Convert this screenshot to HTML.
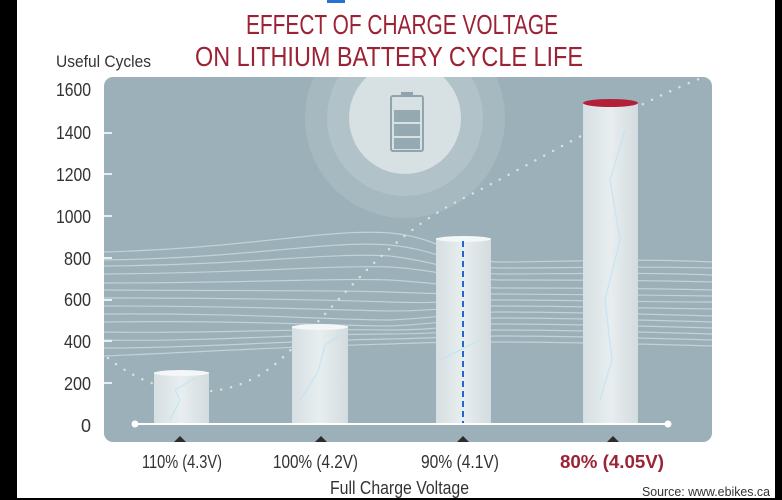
<!DOCTYPE html>
<html><head><meta charset="utf-8"><style>
html,body{margin:0;padding:0;background:#000;}
body{width:782px;height:500px;overflow:hidden;position:relative;font-family:"Liberation Sans",sans-serif;}
</style></head><body>
<svg width="782" height="500" viewBox="0 0 782 500" xmlns="http://www.w3.org/2000/svg" style="position:absolute;left:0;top:0" font-family="Liberation Sans, sans-serif">
<defs>
<linearGradient id="bar" x1="0" x2="1" y1="0" y2="0">
<stop offset="0" stop-color="#d6dfe2"/><stop offset="0.5" stop-color="#e8eef0"/><stop offset="1" stop-color="#d2dbde"/>
</linearGradient>
<clipPath id="pc"><rect x="104" y="77" width="608" height="365" rx="9"/></clipPath>
</defs>
<rect x="17" y="0" width="758" height="498" fill="#fff"/>
<rect x="327" y="0" width="18" height="3" fill="#2a6fd6"/>
<text x="246" y="34" font-size="28" fill="#9b2335" textLength="312" lengthAdjust="spacingAndGlyphs">EFFECT OF CHARGE VOLTAGE</text>
<text x="195" y="66" font-size="28" fill="#9b2335" textLength="388" lengthAdjust="spacingAndGlyphs">ON LITHIUM BATTERY CYCLE LIFE</text>
<text x="56" y="67" font-size="17" fill="#333" textLength="95" lengthAdjust="spacingAndGlyphs">Useful Cycles</text>
<g font-size="18" fill="#333" text-anchor="end">
<text x="91" y="96" textLength="35" lengthAdjust="spacingAndGlyphs">1600</text><text x="91" y="139" textLength="35" lengthAdjust="spacingAndGlyphs">1400</text><text x="91" y="181" textLength="35" lengthAdjust="spacingAndGlyphs">1200</text>
<text x="91" y="223" textLength="35" lengthAdjust="spacingAndGlyphs">1000</text><text x="91" y="265" textLength="27" lengthAdjust="spacingAndGlyphs">800</text><text x="91" y="306" textLength="27" lengthAdjust="spacingAndGlyphs">600</text>
<text x="91" y="348" textLength="27" lengthAdjust="spacingAndGlyphs">400</text><text x="91" y="390" textLength="27" lengthAdjust="spacingAndGlyphs">200</text><text x="91" y="432">0</text>
</g>
<rect x="104" y="77" width="608" height="365" rx="9" fill="#9bb0b8"/>
<g clip-path="url(#pc)">
<circle cx="405" cy="118" r="100" fill="#a6b9c0"/>
<circle cx="405" cy="118" r="78" fill="#b1c3c9"/>
<circle cx="405" cy="118" r="56" fill="#d7e0e3"/>
<g fill="none" stroke="#c9d5d9" stroke-width="1.2" opacity="0.9">
<path d="M104,252 C250,248 330,228 390,233 C440,237 460,262 500,262 C560,262 640,258 712,262"/>
<path d="M104,260 C250,258 330,240 390,245 C440,250 460,268 500,268 C560,268 640,266 712,268"/>
<path d="M104,266 C250,265 330,252 390,256 C440,262 460,274 500,274 C560,274 640,272 712,275"/>
<path d="M104,274 C250,273 330,265 390,267 C440,270 460,280 500,280 C560,280 640,280 712,282"/>
<path d="M104,283 C250,283 330,278 390,280 C440,283 460,288 500,288 C560,288 640,288 712,290"/>
<path d="M104,290 C250,291 330,290 390,292 C440,294 460,294 500,294 C560,294 640,295 712,296"/>
<path d="M104,298 C250,298 330,300 390,302 C440,304 460,300 500,300 C560,300 640,302 712,302"/>
<path d="M104,306 C250,306 330,310 390,311 C440,311 460,306 500,306 C560,306 640,308 712,309"/>
<path d="M104,314 C250,313 330,320 390,320 C440,318 460,312 500,312 C560,312 640,314 712,316"/>
<path d="M104,322 C250,320 330,326 390,326 C440,324 460,318 500,318 C560,318 640,320 712,322"/>
<path d="M104,332 C200,334 300,328 390,330 C440,330 460,324 500,324 C560,324 640,326 712,328"/>
<path d="M104,340 C200,342 300,334 390,334 C440,334 460,330 500,330 C560,330 640,332 712,334"/>
<path d="M104,348 C200,348 300,340 390,339 C440,338 460,336 500,336 C560,336 640,338 712,340"/>
<path d="M104,356 C200,352 300,346 390,344 C440,342 460,342 500,342 C560,342 640,344 712,346"/>
</g>
<path d="M108,358 C160,400 230,405 280,360 S380,240 460,200 S640,100 712,74" fill="none" stroke="#d8e2e5" stroke-width="2.4" stroke-dasharray="0.1 10" stroke-linecap="round"/>
</g>
<rect x="391" y="96" width="32" height="55" rx="2" fill="none" stroke="#8fa4ac" stroke-width="2"/>
<rect x="401" y="92" width="12" height="4" fill="#8fa4ac"/>
<rect x="394" y="110" width="26" height="12" fill="#94a9b1"/>
<rect x="394" y="124" width="26" height="12" fill="#94a9b1"/>
<rect x="394" y="138" width="26" height="11" fill="#94a9b1"/>
<g stroke="#e6eef0" stroke-width="2"><line x1="104" y1="133" x2="112" y2="133"/><line x1="104" y1="174" x2="112" y2="174"/><line x1="104" y1="216" x2="112" y2="216"/><line x1="104" y1="258" x2="112" y2="258"/><line x1="104" y1="300" x2="112" y2="300"/><line x1="104" y1="341" x2="112" y2="341"/><line x1="104" y1="383" x2="112" y2="383"/></g>
<rect x="154" y="372" width="55" height="53" fill="url(#bar)"/><ellipse cx="181.5" cy="373" rx="27.5" ry="3" fill="#f4f7f8"/>
<rect x="292" y="326" width="56" height="99" fill="url(#bar)"/><ellipse cx="320" cy="327" rx="28" ry="3" fill="#f4f7f8"/>
<rect x="436" y="238" width="55" height="187" fill="url(#bar)"/><ellipse cx="463.5" cy="239" rx="27.5" ry="3" fill="#f4f7f8"/>
<rect x="583" y="103" width="55" height="322" fill="url(#bar)"/><ellipse cx="610.5" cy="103" rx="27.5" ry="4" fill="#b3203a"/>
<g fill="none" stroke="#bfe3f3" stroke-width="1.5" opacity="0.7">
<path d="M170,420 L180,400 L175,390 L195,378"/><path d="M300,400 L318,372 L325,345 L340,335"/>
<path d="M440,360 L460,350 L480,340"/><path d="M600,400 L612,360 L605,300 L620,240 L610,180 L625,130"/>
</g>
<line x1="463" y1="241" x2="463" y2="425" stroke="#2266d0" stroke-width="2" stroke-dasharray="6 4"/>
<line x1="135" y1="424" x2="668" y2="424" stroke="#fff" stroke-width="2"/>
<circle cx="135" cy="424" r="3.5" fill="#fff"/><circle cx="668" cy="424" r="3.5" fill="#fff"/>
<g fill="#2c2c2c"><path d="M174,442 L180,436 L186,442Z"/><path d="M315,442 L321,436 L327,442Z"/><path d="M457,442 L463,436 L469,442Z"/><path d="M607,442 L613,436 L619,442Z"/></g>
<g font-size="18" fill="#333">
<text x="142" y="468" textLength="80" lengthAdjust="spacingAndGlyphs">110% (4.3V)</text>
<text x="273" y="468" textLength="85" lengthAdjust="spacingAndGlyphs">100% (4.2V)</text>
<text x="421" y="468" textLength="78" lengthAdjust="spacingAndGlyphs">90% (4.1V)</text>
<text x="560" y="468" fill="#9b2335" font-weight="bold" textLength="104" lengthAdjust="spacingAndGlyphs">80% (4.05V)</text>
<text x="330" y="494" textLength="139" lengthAdjust="spacingAndGlyphs">Full Charge Voltage</text>
</g>
<text x="642" y="496" font-size="13" fill="#333" textLength="128" lengthAdjust="spacingAndGlyphs">Source: www.ebikes.ca</text>
</svg>
</body></html>
